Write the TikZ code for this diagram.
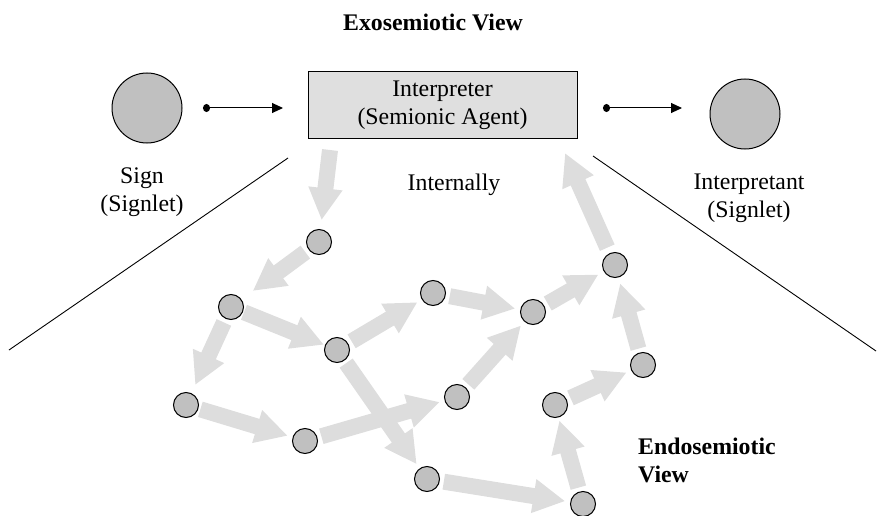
\documentclass[tikz,border=0pt]{standalone}
\usepackage{fontspec}
\setmainfont{Liberation Serif}
\usetikzlibrary{arrows.meta,backgrounds}
\definecolor{garrow}{HTML}{DDDDDD}
\definecolor{nodegray}{HTML}{C0C0C0}
\definecolor{boxgray}{HTML}{DFDFDF}
\begin{document}
\begin{tikzpicture}[x=1pt,y=-1pt,
  every node/.style={font=\fontsize{23.8}{28}\selectfont},
  sn/.style={circle,draw=black,line width=1pt,fill=nodegray,minimum size=25pt,inner sep=0pt},
  bn/.style={circle,draw=black,line width=1pt,fill=nodegray,minimum size=70pt,inner sep=0pt},
  ga/.style={draw=garrow,line width=16pt,-{Triangle[length=32pt,width=32pt,fill=garrow]},shorten <=4pt,shorten >=5pt},
  ka/.style={draw=black,line width=1pt,{Circle[length=7pt,width=8pt]}-{Triangle[length=11pt,width=10pt]}},
  sep/.style={draw=black,line width=0.9pt},
  lbl/.style={align=center,inner sep=0pt}]
\useasboundingbox (0,0) rectangle (878,516);
% exosemiotic level
\node[font=\fontsize{23.8}{28}\selectfont\bfseries,inner sep=0pt] (title) at (433,22) {Exosemiotic View};
\node[bn] (sign) at (147,108) {};
\node[bn] (interpretant) at (745,114) {};
\node[draw=black,line width=1pt,fill=boxgray,minimum width=269pt,minimum height=67pt,align=center,inner sep=0pt] (interp) at (442.5,105.5) {Interpreter\\(Semionic Agent)};
\node[lbl] (signlbl) at (142,192) {Sign\\(Signlet)};
\node[lbl] (intlbl) at (749,198) {Interpretant\\(Signlet)};
\node[inner sep=0pt] (internally) at (454,185) {Internally};
\node[align=left,anchor=west,inner sep=0pt,font=\fontsize{23.8}{28}\selectfont\bfseries] (endo) at (638,460) {Endosemiotic\\View};
\coordinate (d1) at (203,108);
\coordinate (d1e) at (283,108);
\coordinate (d2) at (603,108);
\coordinate (d2e) at (682,108);
\draw[ka] (d1) -- (d1e);
\draw[ka] (d2) -- (d2e);
\coordinate (l1a) at (288,158);
\coordinate (l1b) at (9,350);
\coordinate (l2a) at (593,156);
\coordinate (l2b) at (876,351);
\draw[sep] (l1a) -- (l1b);
\draw[sep] (l2a) -- (l2b);
% internal nodes
\coordinate (r1) at (330,150);
\coordinate (r2) at (565,153);
\node[sn] (A) at (319,242) {};
\node[sn] (B) at (231,307) {};
\node[sn] (C) at (337,350) {};
\node[sn] (D) at (433,293) {};
\node[sn] (E) at (186,405) {};
\node[sn] (F) at (305,441) {};
\node[sn] (G) at (457,397) {};
\node[sn] (H) at (427,479) {};
\node[sn] (I) at (615,265) {};
\node[sn] (J) at (533,312) {};
\node[sn] (K) at (643,365) {};
\node[sn] (L) at (555,405) {};
\node[sn] (M) at (583,504) {};
% gray arrows (drawn behind nodes)
\begin{scope}[on background layer]
\draw[ga,shorten <=0pt,shorten >=9pt] (r1) -- (A);
\draw[ga,shorten >=14pt] (A) -- (B);
\draw[ga,shorten <=1pt,shorten >=1pt] (B) -- (C);
\draw[ga,shorten >=9pt] (B) -- (E);
\draw[ga] (C) -- (D);
\draw[ga] (D) -- (J);
\draw[ga,shorten <=3pt] (C) -- (H);
\draw[ga,shorten <=2pt] (E) -- (F);
\draw[ga] (F) -- (G);
\draw[ga] (G) -- (J);
\draw[ga,shorten >=6pt] (J) -- (I);
\draw[ga] (H) -- (M);
\draw[ga,shorten >=3pt] (M) -- (L);
\draw[ga] (L) -- (K);
\draw[ga,shorten >=6pt] (K) -- (I);
\draw[ga,shorten <=6pt,shorten >=0pt] (I) -- (r2);
\end{scope}
\end{tikzpicture}
\end{document}
